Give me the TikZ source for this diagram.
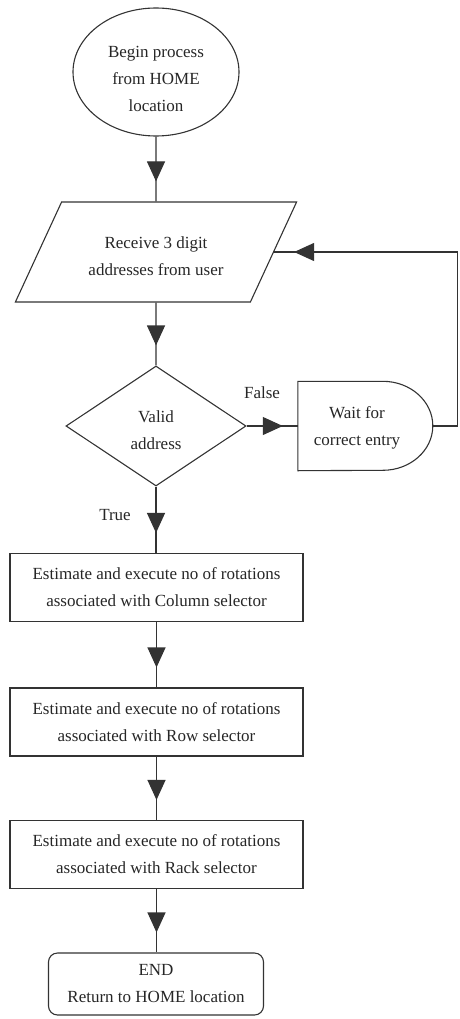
\documentclass[tikz,border=0pt]{standalone}
\usepackage{fontspec}
\setmainfont{Liberation Serif}
\usetikzlibrary{shapes.geometric,arrows.meta,decorations.markings}
\tikzset{
  txt/.style={font=\fontsize{17}{27}\selectfont, align=center, text=black!85},
  shp/.style={draw=black!80, line width=1.1pt},
  procbox/.style={shp, txt, rectangle, minimum width=293pt, minimum height=68pt, inner sep=0pt},
  flow/.style={draw=black!80, line width=1.1pt, postaction={decorate},
    decoration={markings, mark=at position -#1 with {\arrow{Triangle[length=20pt,width=18pt]}}}},
  flow/.default=20pt,
  lbl/.style={font=\fontsize{17}{20}\selectfont, text=black!85}
}
\begin{document}
\begin{tikzpicture}[x=1pt,y=-1pt]
\useasboundingbox (0,0) rectangle (459,1019);
\node[shp, txt, ellipse, minimum width=166pt, minimum height=128pt, inner sep=0pt] (start) at (156,72) {\rule{0pt}{26pt}Begin process\\from HOME\\location};
\node[shp, txt, trapezium, trapezium left angle=55, trapezium right angle=125, trapezium stretches=true, minimum width=282pt, minimum height=100pt, inner sep=0pt] (recv) at (156,252) {\rule{0pt}{20pt}Receive 3 digit\\addresses from user};
\node[shp, txt, diamond, aspect=1.5, minimum width=180pt, minimum height=120pt, inner sep=0pt] (valid) at (156,426) {\rule{0pt}{20pt}Valid\\address};
\node[minimum width=135pt, minimum height=89pt, inner sep=0pt] (wait) at (365.5,426) {};
\node[txt] (waittxt) at (357,428) {Wait for\\correct entry};
\draw[shp] (wait.north west) -- ++(85,0) arc[start angle=90, end angle=-90, x radius=50pt, y radius=44.5pt] -- (wait.south west) -- cycle;
\node[procbox] (b1) at (156.5,587.5) {Estimate and execute no of rotations\\associated with Column selector};
\node[procbox] (b2) at (156.5,722) {Estimate and execute no of rotations\\associated with Row selector};
\node[procbox] (b3) at (156.5,854.5) {Estimate and execute no of rotations\\associated with Rack selector};
\node[shp, txt, rectangle, rounded corners=9pt, minimum width=215pt, minimum height=62pt, inner sep=0pt] (finish) at (156,984) {END\\Return to HOME location};
\coordinate (corner) at (457.5,426);
\path[flow] (start.south) -- (recv.north);
\path[flow] (recv.south) -- (valid.north);
\path[flow=15pt] (valid.east) -- (wait.west);
\path[flow] (wait.east) -- (corner) |- (recv.east);
\path[flow] (valid.south) -- (valid.south |- b1.north);
\path[flow] (b1.south) -- (b2.north);
\path[flow] (b2.south) -- (b3.north);
\path[flow] (b3.south) -- (b3.south |- finish.north);
\node[lbl] (false) at (262,393) {False};
\node[lbl] (true) at (115,515) {True};
\end{tikzpicture}
\end{document}
